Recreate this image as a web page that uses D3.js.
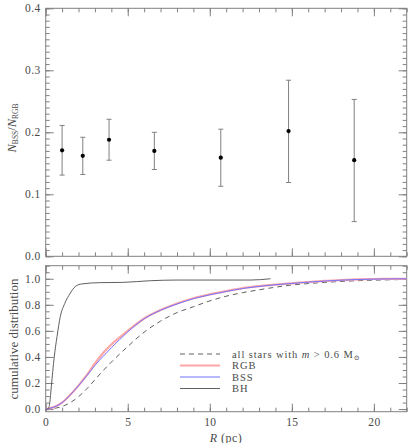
<!DOCTYPE html>
<html>
<head>
<meta charset="utf-8">
<script src="https://cdn.jsdelivr.net/npm/d3@7/dist/d3.min.js"></script>
<style>
  body { margin: 0; background: #fff; }
  text { font-family: "Liberation Serif", "DejaVu Serif", serif; fill: #4a4a4a; }
</style>
</head>
<body>
<div id="chart"></div>
<script>
// ratio of BSS to RGB per radial bin
var binR = [1.0, 2.26, 3.86, 6.62, 10.67, 14.8, 18.8];
var ratio = [0.171, 0.162, 0.188, 0.170, 0.159, 0.202, 0.155];
var ratioLo = [0.131, 0.132, 0.155, 0.140, 0.113, 0.119, 0.056];
var ratioHi = [0.211, 0.192, 0.221, 0.200, 0.205, 0.284, 0.253];

// cumulative distributions
var cdfR = [0, 0.5, 1, 1.5, 2, 2.5, 3, 3.5, 4, 5, 6, 7, 8, 9, 10, 11, 12, 13, 14, 15, 16, 17, 18, 19, 20, 21, 22];
var allStars = [0, 0.005, 0.02, 0.05, 0.095, 0.155, 0.225, 0.295, 0.36, 0.48, 0.59, 0.675, 0.74, 0.785, 0.83, 0.866, 0.893, 0.915, 0.935, 0.952, 0.963, 0.972, 0.979, 0.985, 0.989, 0.992, 0.995];
var rgb = [0, 0.015, 0.05, 0.11, 0.18, 0.26, 0.35, 0.43, 0.495, 0.6, 0.695, 0.76, 0.81, 0.85, 0.88, 0.905, 0.928, 0.943, 0.955, 0.965, 0.975, 0.983, 0.99, 0.995, 0.998, 0.999, 1.0];
var bss = [0, 0.015, 0.05, 0.11, 0.18, 0.255, 0.335, 0.405, 0.47, 0.592, 0.693, 0.758, 0.806, 0.847, 0.877, 0.902, 0.925, 0.941, 0.954, 0.964, 0.974, 0.982, 0.989, 0.994, 0.997, 0.999, 1.0];
var bhR = [0, 0.14, 0.25, 0.34, 0.52, 0.69, 0.89, 1.16, 1.5, 1.8, 2.2, 3.3, 4.7, 6.4, 8, 12.5, 13.7];
var bh = [0, 0, 0.05, 0.17, 0.40, 0.556, 0.71, 0.81, 0.89, 0.94, 0.96, 0.97, 0.972, 0.985, 0.99, 0.99, 1.0];

var xTicks = [0, 5, 10, 15, 20];
var topYTicks = [0, 0.1, 0.2, 0.3, 0.4];
var botYTicks = [0, 0.2, 0.4, 0.6, 0.8, 1.0];

var W = 415, H = 443;
var left = 45.7, right = 406.7;

var svg = d3.select("#chart").append("svg")
  .attr("width", W).attr("height", H);

var x = d3.scaleLinear().domain([0, 22]).range([left, right]);
var yTop = d3.scaleLinear().domain([0, 0.4]).range([256.3, 8.3]);
var yBot = d3.scaleLinear().domain([-0.02, 1.1]).range([411.7, 265.7]);

var xMinor = d3.range(0, 22.01, 1);

function styleAxis(g) {
  g.select(".domain").remove();
  g.selectAll(".tick line").attr("stroke", "#808080").attr("stroke-width", 1);
  g.selectAll(".tick text").style("font-size", "11.5px").attr("fill", "#4a4a4a")
    .style("font-family", "'Liberation Serif', serif")
    .style("letter-spacing", "0.4px");
}

function panel(y, yMajor, yMinor, showX, yFmt) {
  var y0 = y.range()[0], y1 = y.range()[1];
  // bottom
  svg.append("g").attr("transform", "translate(0," + y0 + ")")
    .call(d3.axisBottom(x).tickValues(xMinor).tickSize(-4).tickFormat("")).call(styleAxis);
  svg.append("g").attr("transform", "translate(0," + y0 + ")")
    .call(d3.axisBottom(x).tickValues(xTicks).tickSize(-8).tickPadding(6)
      .tickFormat(showX ? d3.format("d") : "")).call(styleAxis);
  // top
  svg.append("g").attr("transform", "translate(0," + y1 + ")")
    .call(d3.axisTop(x).tickValues(xMinor).tickSize(-4).tickFormat("")).call(styleAxis);
  svg.append("g").attr("transform", "translate(0," + y1 + ")")
    .call(d3.axisTop(x).tickValues(xTicks).tickSize(-8).tickFormat("")).call(styleAxis);
  // left
  svg.append("g").attr("transform", "translate(" + left + ",0)")
    .call(d3.axisLeft(y).tickValues(yMinor).tickSize(-4).tickFormat("")).call(styleAxis);
  svg.append("g").attr("transform", "translate(" + left + ",0)")
    .call(d3.axisLeft(y).tickValues(yMajor).tickSize(-8).tickPadding(5).tickFormat(yFmt)).call(styleAxis);
  // right
  svg.append("g").attr("transform", "translate(" + right + ",0)")
    .call(d3.axisRight(y).tickValues(yMinor).tickSize(-4).tickFormat("")).call(styleAxis);
  svg.append("g").attr("transform", "translate(" + right + ",0)")
    .call(d3.axisRight(y).tickValues(yMajor).tickSize(-8).tickFormat("")).call(styleAxis);
  // frame
  svg.append("rect")
    .attr("x", left).attr("y", y1)
    .attr("width", right - left).attr("height", y0 - y1)
    .attr("fill", "none").attr("stroke", "#808080").attr("stroke-width", 1);
}

panel(yTop, topYTicks, d3.range(0, 0.4001, 0.01), false, d3.format(".1f"));
panel(yBot, botYTicks, d3.range(0, 1.1001, 0.05), true, d3.format(".1f"));

// top panel: error bars + points
var pts = binR.map(function(r, i) {
  return { r: r, v: ratio[i], lo: ratioLo[i], hi: ratioHi[i] };
});
var eb = svg.append("g").attr("stroke", "#808080").attr("stroke-width", 1);
eb.selectAll("line.bar").data(pts).enter().append("line")
  .attr("x1", function(d) { return x(d.r); })
  .attr("x2", function(d) { return x(d.r); })
  .attr("y1", function(d) { return yTop(d.lo); })
  .attr("y2", function(d) { return yTop(d.hi); });
eb.selectAll("line.capHi").data(pts).enter().append("line")
  .attr("x1", function(d) { return x(d.r) - 2.5; })
  .attr("x2", function(d) { return x(d.r) + 2.5; })
  .attr("y1", function(d) { return yTop(d.hi); })
  .attr("y2", function(d) { return yTop(d.hi); });
eb.selectAll("line.capLo").data(pts).enter().append("line")
  .attr("x1", function(d) { return x(d.r) - 2.5; })
  .attr("x2", function(d) { return x(d.r) + 2.5; })
  .attr("y1", function(d) { return yTop(d.lo); })
  .attr("y2", function(d) { return yTop(d.lo); });
svg.append("g").selectAll("circle").data(pts).enter().append("circle")
  .attr("cx", function(d) { return x(d.r); })
  .attr("cy", function(d) { return yTop(d.v); })
  .attr("r", 2.1)
  .attr("fill", "#000");

// bottom panel curves
var line = d3.line()
  .x(function(d) { return x(d[0]); })
  .y(function(d) { return yBot(d[1]); })
  .curve(d3.curveMonotoneX);

function zip(a, b) { return a.map(function(v, i) { return [v, b[i]]; }); }

var curves = [
  { data: zip(cdfR, allStars), color: "#606060", width: 1, dash: "5,4" },
  { data: zip(cdfR, rgb), color: "#ffa6a6", width: 2.2, dash: null },
  { data: zip(cdfR, bss), color: "#7272ff", width: 1, dash: null },
  { data: zip(bhR, bh), color: "#606060", width: 1, dash: null }
];
svg.append("g").selectAll("path").data(curves).enter().append("path")
  .attr("d", function(d) { return line(d.data); })
  .attr("fill", "none")
  .attr("stroke", function(d) { return d.color; })
  .attr("stroke-width", function(d) { return d.width; })
  .attr("stroke-dasharray", function(d) { return d.dash; });

// legend
var legend = svg.append("g").attr("transform", "translate(180,354)");
var legendRows = curves.map(function(c, i) { return { c: c, i: i }; });
legend.selectAll("line").data(legendRows).enter().append("line")
  .attr("x1", 0).attr("x2", 40)
  .attr("y1", function(d) { return d.i * 11.5; })
  .attr("y2", function(d) { return d.i * 11.5; })
  .attr("stroke", function(d) { return d.c.color; })
  .attr("stroke-width", function(d) { return d.c.width; })
  .attr("stroke-dasharray", function(d) { return d.c.dash; });

var lt = legend.append("text").attr("x", 52).attr("y", 3.5)
  .style("font-size", "10.5px").style("letter-spacing", "0.9px");
lt.append("tspan").text("all stars with ");
lt.append("tspan").attr("font-style", "italic").text("m");
lt.append("tspan").text(" > 0.6 M");
lt.append("tspan").attr("font-size", "7px").attr("dy", 2).text("\u2299");
["RGB", "BSS", "BH"].forEach(function(name, i) {
  legend.append("text").attr("x", 52).attr("y", (i + 1) * 11.5 + 3.5)
    .style("font-size", "10.5px").style("letter-spacing", "0.9px").text(name);
});

// axis titles
var xt = svg.append("text").attr("x", 226).attr("y", 441.5)
  .attr("text-anchor", "middle").style("font-size", "12px")
  .style("letter-spacing", "0.5px");
xt.append("tspan").attr("font-style", "italic").text("R");
xt.append("tspan").text(" (pc)");

svg.append("text")
  .attr("transform", "translate(18,339) rotate(-90)")
  .attr("text-anchor", "middle")
  .style("font-size", "13px")
  .text("cumulative distribution");

var yt = svg.append("text")
  .attr("transform", "translate(16,128) rotate(-90)")
  .attr("text-anchor", "middle")
  .style("font-size", "12.5px");
yt.append("tspan").attr("font-style", "italic").text("N");
yt.append("tspan").attr("font-size", "7.5px").attr("dy", 2).text("BSS");
yt.append("tspan").attr("dy", -2).text("/");
yt.append("tspan").attr("font-style", "italic").text("N");
yt.append("tspan").attr("font-size", "7.5px").attr("dy", 2).text("RGB");
</script>
</body>
</html>
